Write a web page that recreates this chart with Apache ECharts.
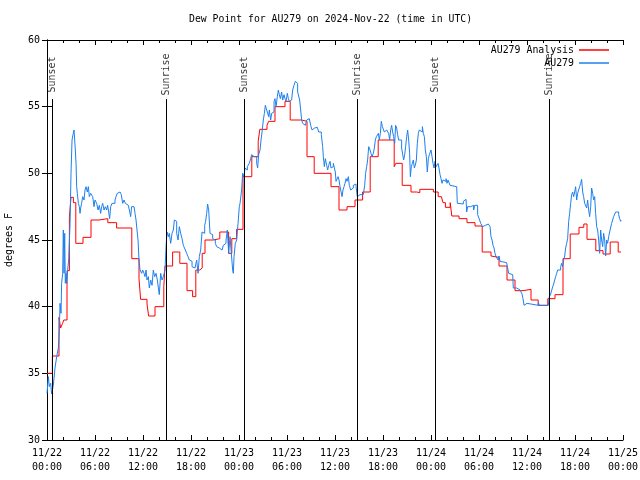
<!DOCTYPE html>
<html>
<head>
<meta charset="utf-8">
<script src="https://cdn.jsdelivr.net/npm/echarts@6/dist/echarts.min.js"></script>
<style>html,body{margin:0;padding:0;background:#fff}#c{width:640px;height:480px}</style>
</head>
<body>
<div id="c"></div>
<script>
// Hours since 2024-11-22 00:00 UTC, dew point in degrees F
const analysis = [
[0,35.0],[0.67,36.3],[1.5,39.2],[1.7,38.4],[1.95,38.75],[2.1,39.0],[2.5,42.7],[2.8,46.7],[3.0,48.2],[3.3,47.8],[3.6,44.75],[4.5,45.2],[5.5,46.5],[6.5,46.6],[7.6,46.3],[8.7,45.9],[10.6,43.6],[11.5,42.1],[11.7,40.55],[12.5,40.2],[12.7,39.3],[13.5,40.0],[14.6,41.5],[14.75,43.05],[15.7,44.1],[16.6,43.25],[17.5,41.2],[18.2,40.75],[18.6,42.75],[19.1,42.9],[19.4,44.0],[19.75,45.0],[20.8,45.1],[21.6,45.6],[22.7,44.0],[23.1,45.1],[23.7,45.8],
[24.5,49.75],[25.6,51.25],[26.4,52.4],[26.6,53.3],[27.5,53.6],[27.7,53.9],[28.5,55.0],[29.75,55.4],[30.4,54.0],[31.8,53.9],[32.5,51.25],[33.4,50.0],[35.5,49.0],[36.5,47.25],[37.5,47.5],[38.5,48.0],[39.45,48.6],[40.4,51.25],[41.4,52.5],[43.4,50.5],[43.6,50.75],[44.4,49.1],[45.5,48.6],[46.2,48.55],[46.6,48.8],
[48.3,48.6],[48.9,48.25],[49.3,48.4],[49.5,47.8],[49.8,47.45],[50.4,47.8],[50.6,46.8],[51.5,46.6],[52.5,46.3],[53.5,46.05],[54.4,44.1],[55.5,43.8],[55.6,43.7],[56.5,43.05],[57.5,42.0],[58.5,41.2],[59.5,41.3],[60.5,40.5],[61.4,40.1],[62.6,40.6],[63.5,40.9],[64.5,43.6],[65.4,45.45],[66.5,45.95],[67.1,46.2],[67.5,45.05],[68.6,44.2],[69.5,43.95],[70.4,44.85],[71.4,44.1],[71.75,44.1]
];
const observed = [
[0,33.5],[0.17,34.75],[0.29,34.0],[0.46,34.25],[0.58,33.45],[0.79,34.1],[1.0,35.4],[1.21,36.25],[1.42,36.9],[1.54,38.25],[1.63,40.25],[1.75,39.5],[1.83,41.75],[1.96,42.5],[2.04,45.75],[2.13,42.5],[2.21,45.5],[2.29,41.75],[2.38,42.5],[2.46,41.75],[2.58,42.75],[2.71,43.5],[2.88,46.25],[3.0,50],[3.13,52.5],[3.25,52.9],[3.38,53.25],[3.46,52.5],[3.54,51.75],[3.63,50.75],[3.71,49],[3.79,48.5],[3.92,47.75],[4.04,47.5],[4.13,47],[4.21,47.4],[4.33,47.75],[4.46,48.25],[4.63,48],[4.75,48.75],[4.88,49],[5.04,48.6],[5.17,49],[5.29,48.25],[5.46,48.5],[5.58,48.5],[5.71,48.25],[5.88,47.5],[6.0,48],[6.21,47.75],[6.38,47.25],[6.54,47.6],[6.71,47],[6.83,47.5],[6.96,47.75],[7.13,47.25],[7.29,47.5],[7.46,47.25],[7.58,47.6],[7.71,47.1],[7.83,46.6],[7.96,47.5],[8.13,47.75],[8.29,47.75],[8.5,48],[8.63,48.25],[8.79,48.5],[8.96,48.6],[9.13,48.5],[9.29,48.4],[9.46,47.75],[9.63,48],[9.79,47.75],[9.96,47.6],[10.17,47.6],[10.38,47.5],[10.46,46.75],[10.58,47.5],[10.71,47.5],[10.88,47.5],[11.0,47],[11.13,46.5],[11.25,45.75],[11.38,45],[11.5,43.5],[11.63,42.75],[11.83,42.5],[11.96,42.75],[12.13,42.5],[12.25,42.25],[12.38,42.75],[12.5,42],[12.67,42.25],[12.79,41.4],[12.96,42],[13.13,41.6],[13.29,42.75],[13.46,42.25],[13.63,42.5],[13.79,42],[13.92,41.4],[14.04,40.9],[14.21,42.5],[14.38,42],[14.54,42.25],[14.75,42.75],[14.88,44.5],[15.0,45.6],[15.17,45.25],[15.29,45.5],[15.46,44.75],[15.63,45.5],[15.79,45.75],[15.92,46.5],[16.04,46.4],[16.21,45.5],[16.38,45],[16.54,46],[16.71,45.5],[16.88,45.1],[17.04,44.6],[17.29,44.25],[17.46,44],[17.63,43.75],[17.79,43.5],[17.96,43.4],[18.13,43],[18.29,42.9],[18.5,43],[18.71,43.5],[18.88,42.5],[19.04,43.75],[19.21,44.25],[19.38,45.6],[19.54,45.5],[19.71,46.1],[19.83,46.4],[19.96,47],[20.08,47.7],[20.21,47.25],[20.38,45.5],[20.54,45.4],[20.71,45.1],[20.88,45],[21.04,44.75],[21.21,44.5],[21.38,44.4],[21.54,44.25],[21.71,44.25],[21.88,44.4],[22.04,44.6],[22.21,44.75],[22.38,45],[22.54,45.75],[22.71,44],[22.88,45.25],[23.04,44],[23.21,42.75],[23.29,42.5],[23.38,43.75],[23.54,44.75],[23.71,45],[23.88,46.25],[24.04,47.5],
[24.13,47.75],[24.33,48.75],[24.46,50],[24.63,49.75],[24.75,50.4],[24.88,50.25],[25.04,50.5],[25.17,50.4],[25.29,50.75],[25.46,51.1],[25.58,51.4],[25.71,51.25],[25.88,51.1],[26.04,51.25],[26.21,50.75],[26.33,50.4],[26.46,51.4],[26.63,51.75],[26.75,52.5],[26.88,53.1],[27.04,54],[27.17,54.5],[27.29,55.1],[27.46,54.75],[27.58,54.6],[27.71,54.25],[27.79,54.75],[27.96,54],[28.08,54.5],[28.21,54.6],[28.38,55.4],[28.5,55.6],[28.63,55],[28.79,55.75],[28.92,56.25],[29.04,55.9],[29.17,55.6],[29.33,56.1],[29.46,55.5],[29.63,55.9],[29.75,55.6],[29.88,55.4],[30.04,56],[30.17,55.6],[30.29,55.4],[30.46,55.5],[30.58,55.6],[30.71,56.25],[30.88,56.6],[31.04,56.9],[31.21,56.75],[31.33,56.1],[31.46,56],[31.58,55.5],[31.71,54.75],[31.83,54],[31.96,53.75],[32.13,53.6],[32.29,53.75],[32.46,54],[32.63,54.1],[32.79,54.1],[32.96,53.6],[33.13,53.25],[33.29,53.4],[33.46,53.4],[33.63,53.45],[33.79,53.4],[33.96,53.1],[34.13,53.1],[34.29,52.9],[34.46,52],[34.54,51.25],[34.67,50.5],[34.79,51.1],[34.96,50.6],[35.08,50.25],[35.21,50.6],[35.38,50.9],[35.5,50.4],[35.63,50.5],[35.79,50.75],[35.92,50.6],[36.04,50.1],[36.13,49.4],[36.25,49.25],[36.38,49.75],[36.5,49.5],[36.63,49],[36.75,49],[36.88,48.25],[37.0,48.75],[37.13,49],[37.25,49.25],[37.38,49.6],[37.5,49.4],[37.67,49.75],[37.79,49.1],[37.96,48.75],[38.08,48.9],[38.29,49.1],[38.5,49.2],[38.63,49],[38.79,48.25],[38.96,48.4],[39.13,48.5],[39.33,48.4],[39.54,48.5],[39.71,49.1],[39.83,50],[39.96,50.5],[40.08,51],[40.21,52],[40.38,51.75],[40.5,51.5],[40.63,51.25],[40.79,51.5],[40.92,51.9],[41.04,52.5],[41.17,52.75],[41.29,52.9],[41.42,53],[41.54,52.5],[41.67,53],[41.79,53.9],[41.92,53.5],[42.04,53.4],[42.17,53.1],[42.29,53.25],[42.46,53.4],[42.58,53.1],[42.71,53],[42.83,52.5],[42.96,53.25],[43.08,53.6],[43.21,53.1],[43.33,52.75],[43.46,52.25],[43.58,53.6],[43.71,53.4],[43.83,52.9],[43.96,52.5],[44.08,52.6],[44.21,52.5],[44.33,51.9],[44.46,52],[44.58,51],[44.71,51.4],[44.83,52],[44.96,52.75],[45.08,53.25],[45.21,52.5],[45.33,51.5],[45.42,49.75],[45.54,50.5],[45.67,50.75],[45.79,51],[45.92,50.4],[46.04,50.6],[46.17,51],[46.29,52.25],[46.42,53],[46.54,53.25],[46.67,53.4],[46.79,53.1],[46.92,53.5],[47.04,53],[47.17,52.75],[47.29,51.75],[47.42,51.25],[47.54,50.1],[47.67,51.1],[47.79,51.4],
[47.88,51.5],[48.0,51.75],[48.13,51.25],[48.25,50.75],[48.38,50.4],[48.5,50.9],[48.63,50.5],[48.75,50.6],[48.88,50.75],[49.0,50.4],[49.13,49.9],[49.25,49.6],[49.38,49.25],[49.5,49.5],[49.63,49.6],[49.75,49.4],[49.88,49.6],[50.0,49.25],[50.13,49.5],[50.25,49.6],[50.38,49.1],[50.5,49],[51.21,49],[51.29,47.75],[51.46,47.7],[52.04,47.9],[52.17,48.05],[52.38,48.05],[52.46,47.1],[52.58,47.5],[52.71,47.6],[52.83,47.5],[52.96,47.6],[53.08,47.4],[53.21,47.6],[53.33,47.25],[53.46,47.6],[53.58,47.5],[53.71,47.6],[53.83,46.9],[53.96,46.75],[54.08,46.5],[54.21,46.25],[54.33,46.1],[54.46,46],[54.63,46.1],[54.79,46.2],[55.17,46.2],[55.38,46],[55.5,45.25],[55.63,45],[55.75,44.6],[55.88,44.4],[56.0,44],[56.13,43.75],[56.25,43.9],[56.38,43.5],[56.5,43.8],[56.63,43.4],[56.75,43.3],[57.46,43.3],[57.58,42.9],[57.71,42.5],[57.83,42.4],[58.21,42.4],[58.29,41.4],[58.71,41.3],[58.83,41.25],[59.13,41.2],[59.38,40.95],[59.5,40.6],[59.63,40.1],[59.88,40.25],[60.0,40.25],[60.13,40.1],[61.42,40.3],[61.54,40.1],[62.67,40.25],[62.79,40.75],[62.96,40.95],[63.08,41.1],[63.21,41.5],[63.33,41.7],[63.46,41.75],[63.58,42.25],[63.71,42.5],[63.83,42.75],[63.96,42.9],[64.08,42.75],[64.21,43],[64.33,43.25],[64.46,43],[64.58,43.5],[64.71,43.8],[64.83,44.4],[64.96,44.75],[65.08,45.1],[65.21,46.4],[65.33,47],[65.46,47.75],[65.58,48.4],[65.71,48.6],[65.83,48.25],[65.96,48.6],[66.08,49],[66.21,48],[66.33,48.5],[66.46,48.75],[66.58,49],[66.71,49.25],[66.83,49.55],[66.96,48.6],[67.08,48.25],[67.21,47.75],[67.33,47.9],[67.46,47.4],[67.58,48],[67.71,47.25],[67.83,46.75],[67.96,47.5],[68.08,48.9],[68.21,48.5],[68.33,48],[68.46,48.25],[68.58,47],[68.71,46],[68.83,45.75],[68.96,45],[69.08,44],[69.21,45.75],[69.33,45],[69.46,44.5],[69.58,45.5],[69.71,45],[69.83,43.8],[69.96,45],[70.08,44.75],[70.21,45.25],[70.33,45.6],[70.46,45.6],[70.58,46.25],[70.71,46.4],[70.83,46.75],[70.96,46.75],[71.08,47.1],[71.21,47.25],[71.33,47.1],[71.46,46.9],[71.58,46.6],[71.71,46.4],[71.75,46.5]
];
const sunTimes = [0.66, 14.96, 24.66, 38.79, 48.54, 62.79];
const sunLabels = ['Sunset', 'Sunrise', 'Sunset', 'Sunrise', 'Sunset', 'Sunrise'];
const yTicks = [30, 35, 40, 45, 50, 55, 60];
const startMonth = 11, startDay = 22;

const FONT = 'DejaVu Sans Mono';
const pad = n => (n < 10 ? '0' : '') + n;
const xFmt = v => {
  const d = startDay + Math.floor(v / 24);
  const h = Math.round(v % 24);
  return startMonth + '/' + d + '\n' + pad(h) + ':00';
};

const lineTop = 55.575, labelMid = 57.41;
const RED = '#ff0000', BLUE = '#1e80ef';
const chart = echarts.init(document.getElementById('c'), null, {renderer: 'canvas'});
const xBase = {
  type: 'value', min: 0, max: 72, interval: 6,
  axisLine: {show: true, lineStyle: {color: '#000', width: 1}},
  axisTick: {show: true, inside: true, length: 5, lineStyle: {color: '#000'}},
  minorTick: {show: true, splitNumber: 3, length: 3, lineStyle: {color: '#000'}},
  splitLine: {show: false}
};
const yBase = {
  type: 'value', min: yTicks[0], max: yTicks[yTicks.length - 1], interval: 5,
  axisLine: {show: true, lineStyle: {color: '#000', width: 1}},
  axisTick: {show: true, inside: true, length: 5, lineStyle: {color: '#000'}},
  splitLine: {show: false}
};
chart.setOption({
  animation: false,
  backgroundColor: '#fff',
  title: {
    text: 'Dew Point for AU279 on 2024-Nov-22 (time in UTC)',
    left: 189, top: 14, padding: 0,
    textStyle: {fontFamily: FONT, fontSize: 9.8, fontWeight: 'normal', color: '#000'}
  },
  legend: {
    data: [
      {name: 'AU279 Analysis', icon: 'rect', itemStyle: {color: RED}},
      {name: 'AU279', icon: 'rect', itemStyle: {color: BLUE}}
    ],
    orient: 'vertical', right: 31, top: 44, padding: 0,
    align: 'right', itemWidth: 30, itemHeight: 1.5, itemGap: 1,
    textStyle: {fontFamily: FONT, fontSize: 9.9, color: '#000', lineHeight: 12}
  },
  grid: {left: 47, right: 17, top: 40, bottom: 40, containLabel: false, outerBoundsMode: 'none'},
  xAxis: [
    Object.assign({}, xBase, {position: 'bottom',
      axisLabel: {show: true, formatter: xFmt, fontFamily: FONT, fontSize: 10, color: '#000', lineHeight: 14, margin: 6}}),
    Object.assign({}, xBase, {position: 'top', axisLabel: {show: false}})
  ],
  yAxis: [
    Object.assign({}, yBase, {position: 'left',
      name: 'degrees F', nameLocation: 'middle', nameRotate: 90, nameGap: 33,
      nameTextStyle: {fontFamily: FONT, fontSize: 10, color: '#000'},
      axisLabel: {show: true, fontFamily: FONT, fontSize: 10, color: '#000', margin: 7}}),
    Object.assign({}, yBase, {position: 'right', axisLabel: {show: false}})
  ],
  series: [
    {
      name: 'AU279 Analysis', type: 'line', step: 'end', data: analysis,
      symbol: 'none', lineStyle: {color: RED, width: 1}, itemStyle: {color: RED},
      z: 2,
      markLine: {
        silent: true, symbol: ['none', 'none'], label: {show: false},
        lineStyle: {color: '#000', width: 1, type: 'solid'},
        data: sunTimes.map(t => [{coord: [t, yTicks[0]]}, {coord: [t, lineTop]}])
      }
    },
    {
      name: 'AU279', type: 'line', step: 'end', data: observed,
      symbol: 'none', lineStyle: {color: BLUE, width: 1}, itemStyle: {color: BLUE},
      z: 3
    },
    {
      name: 'sun', type: 'scatter', silent: true, symbolSize: 1,
      itemStyle: {color: 'rgba(0,0,0,0)'},
      data: sunTimes.map((t, i) => [t, labelMid, sunLabels[i]]),
      label: {show: true, position: 'inside', rotate: 90, formatter: p => p.data[2],
        fontFamily: FONT, fontSize: 10, color: '#000', textBorderWidth: 0},
      z: 4
    }
  ]
});
</script>
</body>
</html>
